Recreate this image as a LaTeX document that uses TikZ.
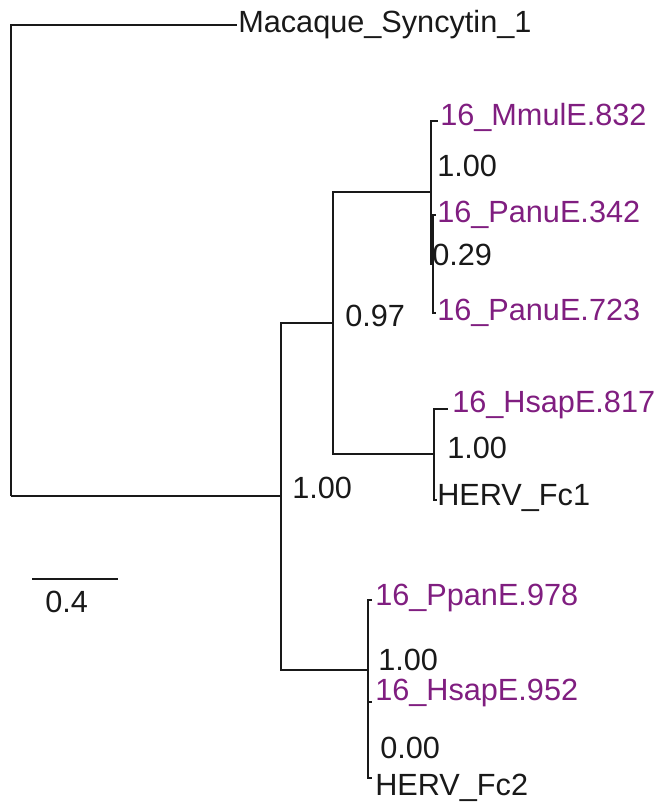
\documentclass[tikz,border=0pt]{standalone}
\usepackage{fontspec}
\setmainfont{Liberation Sans}
\definecolor{leafpurple}{RGB}{128,30,128}
\definecolor{inkgray}{RGB}{25,25,25}

\begin{document}
\begin{tikzpicture}[
				x=0.75pt, y=-0.75pt,
				every node/.style={font=\fontsize{23}{27}\selectfont, inner sep=0pt, anchor=base west},
				branch/.style={line width=1.5pt, draw=inkgray},
				scalebar/.style={line width=1.1pt, draw=inkgray},
				leaf/.style={text=leafpurple},
				plain/.style={text=inkgray}
			]
		\useasboundingbox (0,0) rectangle (656,803);

		% Internal nodes of the tree
		\coordinate (root) at (11,496);
		\coordinate (nodeA) at (281,496);
		\coordinate (nodeB) at (333,323);
		\coordinate (nodeC) at (431,192);
		\coordinate (nodeD) at (433,264);
		\coordinate (nodeE) at (434,454);
		\coordinate (nodeF) at (368,670);
		\coordinate (nodeG) at (368,740);

		% Tips
		\coordinate (macaque) at (237,25);
		\coordinate (mmul832) at (438,121);
		\coordinate (panu342) at (436,215);
		\coordinate (panu723) at (436,313);
		\coordinate (hsap817) at (448,409);
		\coordinate (hervFc1) at (437,500);
		\coordinate (ppan978) at (372,600);
		\coordinate (hsap952) at (372,702);
		\coordinate (hervFc2) at (372,778);

		% Branches (rectangular cladogram)
		\foreach \parent/\child in {root/macaque, root/nodeA, nodeA/nodeB, nodeA/nodeF,
				nodeB/nodeC, nodeB/nodeE, nodeC/mmul832, nodeC/nodeD, nodeD/panu342, nodeD/panu723,
				nodeE/hsap817, nodeE/hervFc1, nodeF/ppan978, nodeF/nodeG, nodeG/hsap952, nodeG/hervFc2} {
				\draw[branch] (\parent) |- (\child);
			}

		% Tip labels
		\node[plain] (macaqueLabel) at (238,32) {Macaque\_Syncytin\_1};
		\node[leaf] (mmul832Label) at (440,125) {16\_MmulE.832};
		\node[leaf] (panu342Label) at (437,222) {16\_PanuE.342};
		\node[leaf] (panu723Label) at (437,320) {16\_PanuE.723};
		\node[leaf] (hsap817Label) at (452,412) {16\_HsapE.817};
		\node[plain] (hervFc1Label) at (437,505) {HERV\_Fc1};
		\node[leaf] (ppan978Label) at (375,605) {16\_PpanE.978};
		\node[leaf] (hsap952Label) at (375,700) {16\_HsapE.952};
		\node[plain] (hervFc2Label) at (375,795) {HERV\_Fc2};

		% Support values
		\node[plain] (supA) at (292,498) {1.00};
		\node[plain] (supB) at (345,326) {0.97};
		\node[plain] (supC) at (437,176) {1.00};
		\node[plain] (supD) at (432,265) {0.29};
		\node[plain] (supE) at (447,458) {1.00};
		\node[plain] (supF) at (378,670) {1.00};
		\node[plain] (supG) at (380,758) {0.00};

		% Scale bar
		\coordinate (barLeft) at (32,579);
		\coordinate (barRight) at (118,579);
		\draw[scalebar] (barLeft) -- (barRight);
		\node[plain] (barLabel) at (45,612) {0.4};
	\end{tikzpicture}
\end{document}
